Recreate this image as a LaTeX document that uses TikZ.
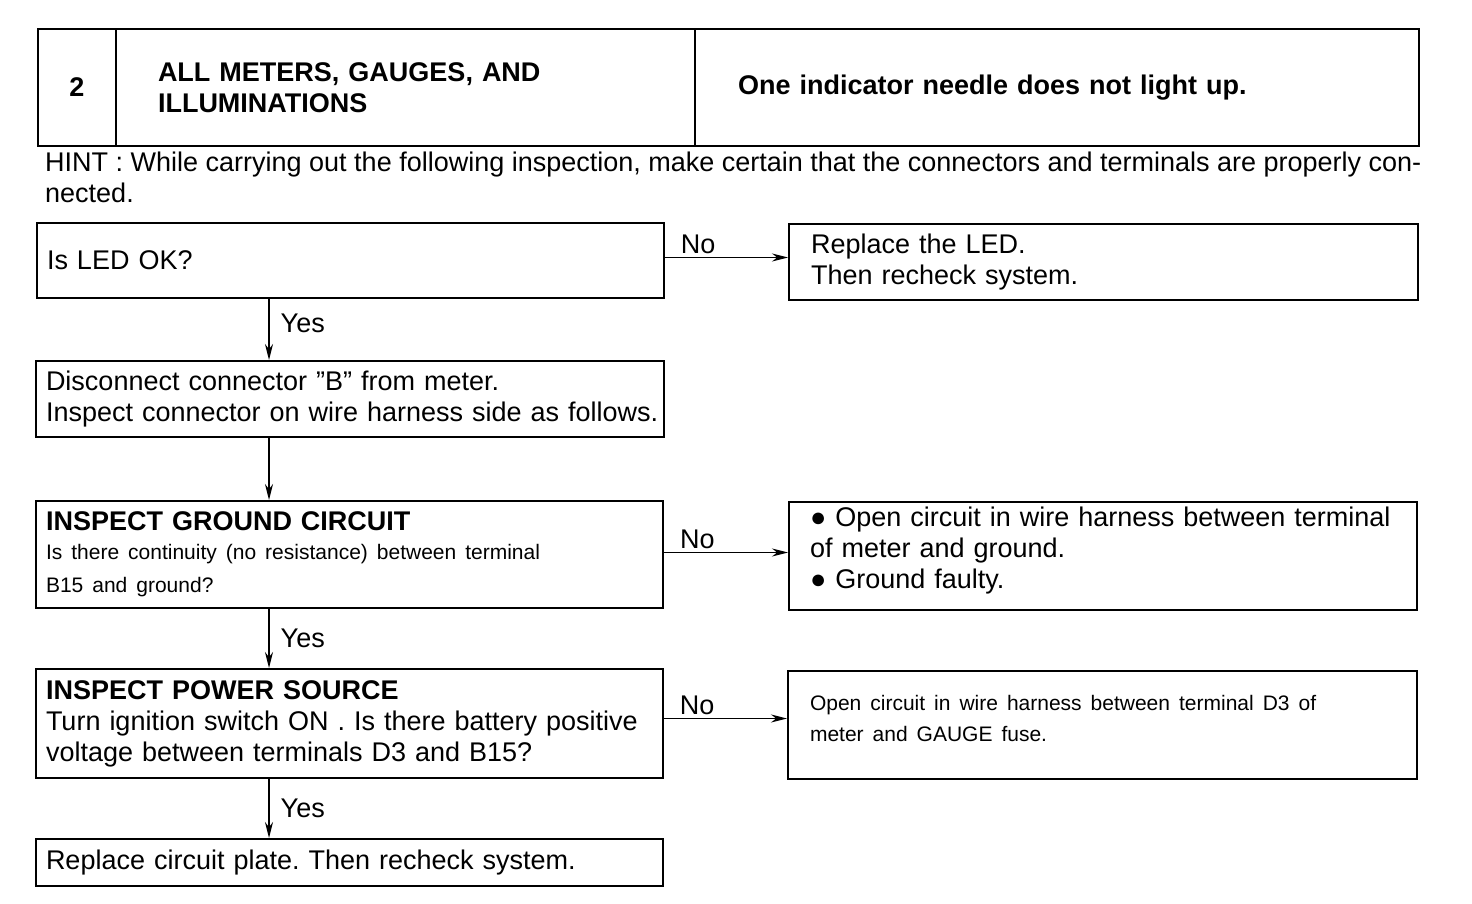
\documentclass[tikz,border=0pt]{standalone}
\usepackage{fontspec}
\setmainfont{Liberation Sans}
\usetikzlibrary{arrows.meta}
\frenchspacing
\newcommand\mainsize{\fontsize{27}{31}\selectfont}
\newcommand\smallsize{\fontsize{21}{32}\selectfont}
\tikzset{
  box/.style={draw, line width=2pt, anchor=north west, inner xsep=10pt, inner ysep=0pt, align=left, font=\mainsize},
  hdr/.style={draw, line width=2pt, anchor=north west, minimum height=117pt, inner ysep=0pt, align=left, font=\mainsize\bfseries},
  arr/.style={line width=1.4pt, -{Stealth[length=16pt, width=8pt]}},
  lbl/.style={font=\mainsize, inner sep=3pt}
}
\begin{document}
\begin{tikzpicture}[x=1pt, y=-1pt]
    \useasboundingbox (0,0) rectangle (1472,904);

    % En-tete
    \node[hdr, text width=58pt, inner xsep=10pt, align=center] (num) at (37,28) {2};
    \node[hdr, text width=495pt, inner xsep=42pt] (sys) at (115,28) {ALL METERS, GAUGES, AND\\ILLUMINATIONS};
    \node[hdr, text width=638pt, inner xsep=43pt] (sym) at (694,28) {One indicator needle does not light up.};
    \node[anchor=north west, inner sep=0pt, align=left, font=\mainsize] (hint) at (45,152)
        {HINT : While carrying out the following inspection, make certain that the connectors and terminals are properly con-\\nected.};

    % Colonne de gauche
    \node[box, text width=607pt, minimum height=75pt] (led) at (36,222) {Is LED OK?};
    \node[box, text width=608pt, minimum height=76pt] (disc) at (35,360)
        {Disconnect connector "B" from meter.\\\mbox{Inspect connector on wire harness side as follows.}};
    \node[box, text width=607pt, minimum height=107pt] (gnd) at (35,500)
        {\textbf{INSPECT GROUND CIRCUIT}\\[-2pt]
         {\smallsize Is there continuity (no resistance) between terminal}\\[2pt]
         {\smallsize B15 and ground?}};
    \node[box, text width=607pt, minimum height=109pt] (pwr) at (35,668)
        {\textbf{INSPECT POWER SOURCE}\\Turn ignition switch ON . Is there battery positive\\voltage between terminals D3 and B15?};
    \node[box, text width=607pt, minimum height=47pt] (plate) at (35,838)
        {Replace circuit plate. Then recheck system.};

    % Colonne de droite
    \node[box, text width=585pt, inner xsep=22pt, minimum height=76pt] (rled) at (788,223)
        {Replace the LED.\\Then recheck system.};
    \node[box, text width=586pt, inner xsep=21pt, minimum height=108pt, text depth=78pt] (rgnd) at (788,501)
        {\mbox{● Open circuit in wire harness between terminal}\\of meter and ground.\\● Ground faulty.};
    \node[box, text width=585pt, inner xsep=22pt, minimum height=108pt, text depth=45pt] (rpwr) at (787,670)
        {{\smallsize Open circuit in wire harness between terminal D3 of}\\
         {\smallsize meter and GAUGE fuse.}};

    % Fleches Yes
    \coordinate (spine) at (269,0);
    \draw[arr] (led.south -| spine) -- node[lbl, right, xshift=8pt, yshift=6pt] {Yes} (disc.north -| spine);
    \draw[arr] (disc.south -| spine) -- (gnd.north -| spine);
    \draw[arr] (gnd.south -| spine) -- node[lbl, right, xshift=8pt] {Yes} (pwr.north -| spine);
    \draw[arr] (pwr.south -| spine) -- node[lbl, right, xshift=8pt] {Yes} (plate.north -| spine);

    % Fleches No
    \draw[arr] ([yshift=3pt]led.east) -- node[lbl, above, pos=0.27] {No} ([yshift=3pt]led.east -| rled.west);
    \draw[arr] ([yshift=2pt]gnd.east) -- node[lbl, above, pos=0.27] {No} ([yshift=2pt]gnd.east -| rgnd.west);
    \draw[arr] ([yshift=5pt]pwr.east) -- node[lbl, above, pos=0.27] {No} ([yshift=5pt]pwr.east -| rpwr.west);
\end{tikzpicture}
\end{document}
